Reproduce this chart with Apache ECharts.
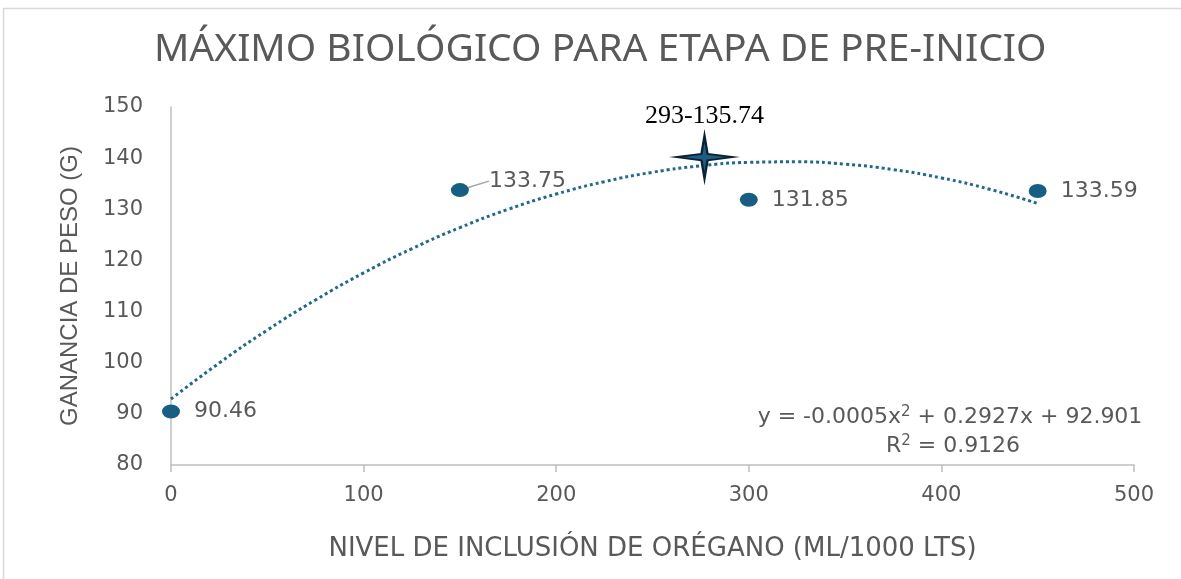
<!DOCTYPE html>
<html>
<head>
<meta charset="utf-8">
<script src="https://cdn.jsdelivr.net/npm/echarts@6/dist/echarts.min.js"></script>
<style>
  html, body { margin: 0; padding: 0; background: #fff; }
  #chart { width: 1181px; height: 579px; }
</style>
</head>
<body>
<div id="chart"></div>
<script>
// datos observados
var nivel = [0, 150, 300, 450];
var ganancia = [90.46, 133.75, 131.85, 133.59];

// linea de tendencia
var tendX = [0, 25, 50, 75, 100, 125, 150, 175, 200, 225, 250, 275, 300, 325, 350, 375, 400, 425, 450];
var tendY = [92.9, 99.93, 106.39, 112.26, 117.56, 122.28, 126.42, 129.99, 132.98, 135.4, 137.24, 138.49, 139.17, 139.28, 138.81, 137.76, 136.13, 133.92, 131.14];

// maximo biologico
var maxPunto = [277, 140.2];
var maxTexto = '293-135.74';

var gris = '#595959';
var azul = '#175e85';
var fuente = 'DejaVu Sans';

var myChart = echarts.init(document.getElementById('chart'));

var puntos = [];
for (var i = 0; i < nivel.length; i++) {
    var item = { value: [nivel[i], ganancia[i]] };
    if (i === 1) {
        // etiqueta con linea guia
        item.labelLine = { show: true };
    }
    puntos.push(item);
}
var tendencia = [];
for (var j = 0; j < tendX.length; j++) tendencia.push([tendX[j], tendY[j]]);

var option = {
    backgroundColor: '#fff',
    animation: false,
    title: {
        text: 'MÁXIMO BIOLÓGICO PARA ETAPA DE PRE-INICIO',
        left: 149,
        top: 25,
        textStyle: { color: gris, fontSize: 39, fontWeight: 'normal', fontFamily: 'Noto Sans' }
    },
    graphic: [
        {
            type: 'rect',
            shape: { x: 3.5, y: 8.5, width: 1190, height: 600 },
            style: { fill: 'none', stroke: '#d9d9d9', lineWidth: 1.5 },
            silent: true
        },
        {
            type: 'text',
            x: 950, y: 417,
            style: {
                text: '{a|y = -0.0005x}{s|2}{a| + 0.2927x + 92.901}',
                align: 'center', verticalAlign: 'middle',
                rich: {
                    a: { fontSize: 22, fill: gris, fontFamily: fuente },
                    s: { fontSize: 15, fill: gris, fontFamily: fuente, padding: [0, 0, 10, 0] }
                }
            }
        },
        {
            type: 'text',
            x: 953, y: 446,
            style: {
                text: '{a|R}{s|2}{a| = 0.9126}',
                align: 'center', verticalAlign: 'middle',
                rich: {
                    a: { fontSize: 22, fill: gris, fontFamily: fuente },
                    s: { fontSize: 15, fill: gris, fontFamily: fuente, padding: [0, 0, 10, 0] }
                }
            }
        }
    ],
    grid: { left: 171, right: 47, top: 107, bottom: 114 },
    xAxis: {
        type: 'value',
        min: 0, max: 500, interval: 100,
        name: 'NIVEL DE INCLUSIÓN DE ORÉGANO (ML/1000 LTS)',
        nameLocation: 'middle',
        nameGap: 71,
        nameTextStyle: { color: gris, fontSize: 26, fontFamily: fuente },
        axisLine: { lineStyle: { color: '#bfbfbf', width: 1.5 } },
        axisTick: { show: true, length: 7, lineStyle: { color: '#bfbfbf', width: 1.5 } },
        axisLabel: { color: gris, fontSize: 21, margin: 20, fontFamily: fuente },
        splitLine: { show: false }
    },
    yAxis: {
        type: 'value',
        min: 80, max: 150, interval: 10,
        name: 'GANANCIA DE PESO (G)',
        nameLocation: 'middle',
        nameGap: 89,
        nameTextStyle: { color: gris, fontSize: 24, fontFamily: 'Liberation Sans' },
        axisLine: { show: true, lineStyle: { color: '#bfbfbf', width: 1.5 } },
        axisTick: { show: false },
        axisLabel: { color: gris, fontSize: 21, margin: 28, fontFamily: fuente },
        splitLine: { show: false }
    },
    series: [
        {
            type: 'line',
            data: tendencia,
            smooth: true,
            symbol: 'none',
            lineStyle: { color: '#1f6990', width: 3, type: [3, 3] },
            z: 2
        },
        {
            type: 'scatter',
            data: puntos,
            symbol: 'circle',
            symbolSize: [18, 14],
            itemStyle: { color: azul, opacity: 1 },
            label: {
                show: true,
                position: 'right',
                distance: 14,
                color: gris,
                fontSize: 22,
                fontFamily: fuente
            },
            labelLayout: function (params) {
                if (params.dataIndex === 1) {
                    return { dx: 6, dy: -9 };
                }
                return {};
            },
            labelLine: { show: false, length2: 0, lineStyle: { color: '#a6a6a6', width: 1.5 } },
            z: 3
        },
        {
            type: 'scatter',
            data: [maxPunto],
            symbol: 'path://M0,-20 L3,-3 L28,0 L3,3 L0,20 L-3,3 L-28,0 L-3,-3 Z',
            symbolSize: [57, 43],
            itemStyle: { color: '#1f5d82', borderColor: '#0b2236', borderWidth: 2, opacity: 1 },
            label: {
                show: true,
                position: 'top',
                distance: 6,
                formatter: maxTexto,
                color: '#000',
                fontSize: 26,
                fontFamily: 'Liberation Serif'
            },
            z: 4
        }
    ]
};

myChart.setOption(option);
</script>
</body>
</html>
